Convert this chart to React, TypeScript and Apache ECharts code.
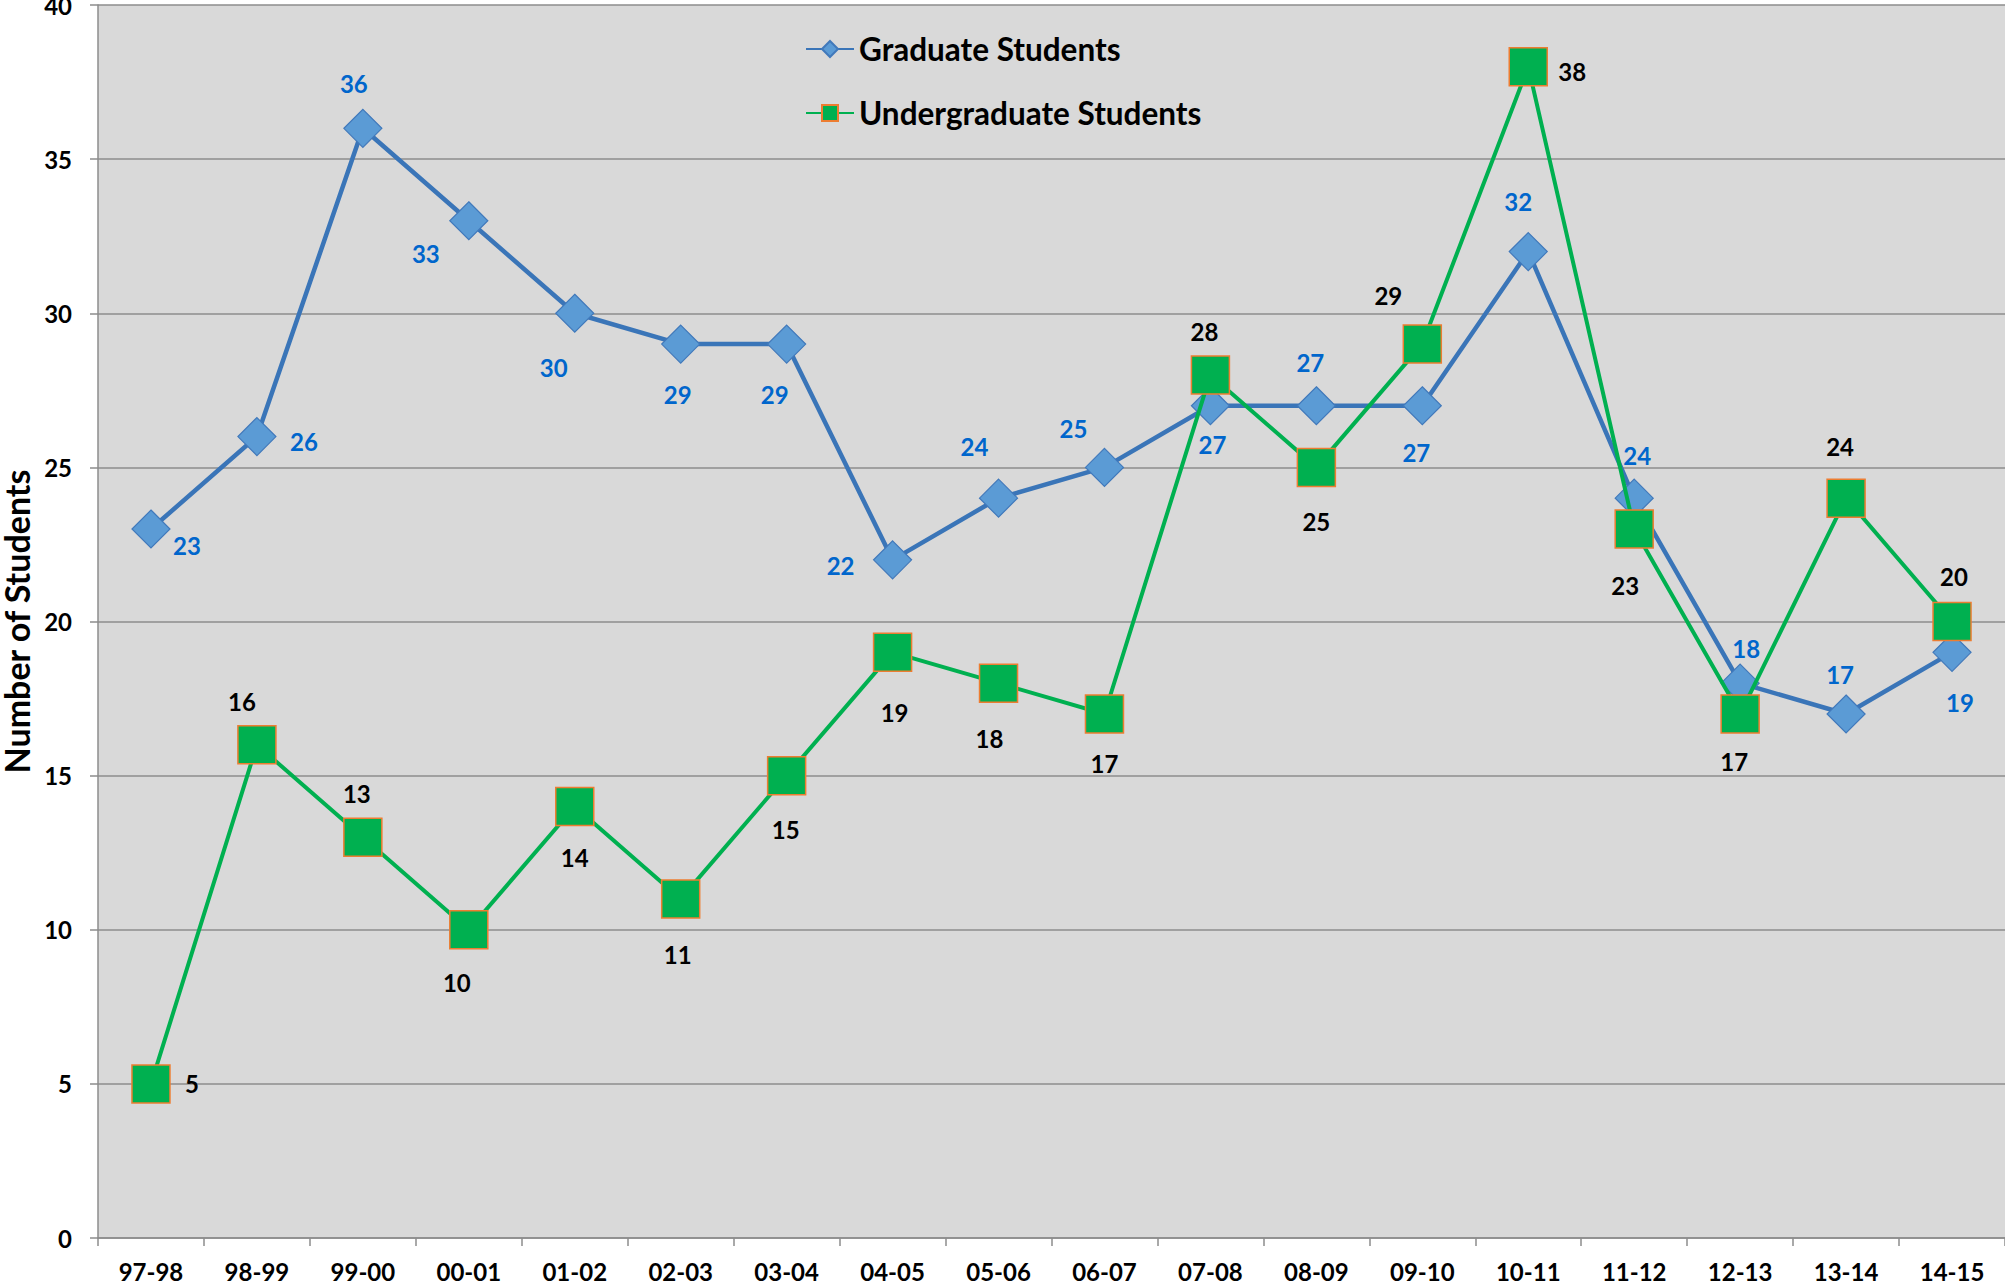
import React, { useEffect, useRef } from "react";
import * as echarts from "echarts";

const categories = ["97-98", "98-99", "99-00", "00-01", "01-02", "02-03", "03-04", "04-05", "05-06", "06-07", "07-08", "08-09", "09-10", "10-11", "11-12", "12-13", "13-14", "14-15"];
const graduate = [23, 26, 36, 33, 30, 29, 29, 22, 24, 25, 27, 27, 27, 32, 24, 18, 17, 19];
const undergraduate = [5, 16, 13, 10, 14, 11, 15, 19, 18, 17, 28, 25, 29, 38, 23, 17, 24, 20];
const yTicks = { min: 0, max: 40, interval: 5 };

// label placement offsets (pixels from marker centre)
const gradLabelOffset = [[36, 16], [47, 5], [-9, -45], [-43, 33], [-21, 54], [-3, 50], [-12, 50], [-52, 6], [-24, -52], [-31, -39], [2, 39], [-6, -43], [-6, 47], [-10, -50], [3, -43], [6, -35], [-6, -39], [8, 50]];
const ugLabelOffset = [[41, 0], [-15, -43], [-6, -44], [-12, 53], [0, 51], [-3, 56], [-1, 54], [2, 60], [-9, 55], [0, 50], [-6, -43], [0, 54], [-34, -49], [44, 5], [-9, 56], [-6, 48], [-6, -52], [2, -45]];

const FONT = "Lato, 'Open Sans', sans-serif";

export default function App() {
  const ref = useRef<HTMLDivElement>(null);
  useEffect(() => {
    if (!ref.current) return;
    const chart = echarts.init(ref.current, null, { renderer: "svg" });
    chart.setOption({
      animation: false,
      backgroundColor: "#ffffff",
      textStyle: { fontFamily: FONT },
      grid: {
        left: 98, right: 0, top: 5, bottom: 48,
        outerBoundsMode: "none",
        containLabel: false,
        show: true, backgroundColor: "#D9D9D9", borderWidth: 0,
      },
      legend: {
        orient: "vertical",
        left: 800,
        top: 28,
        itemGap: 32,
        itemWidth: 48,
        itemHeight: 20,
        textStyle: { fontFamily: FONT, fontWeight: "bold", fontSize: 31.5, color: "#000" },
        data: ["Graduate Students", "Undergraduate Students"],
      },
      xAxis: {
        type: "category",
        data: categories,
        boundaryGap: true,
        axisLine: { lineStyle: { color: "#8C8C8C", width: 1.5 } },
        axisTick: { show: true, length: 8, lineStyle: { color: "#8C8C8C", width: 1.5 } },
        axisLabel: { fontFamily: FONT, fontWeight: "bold", fontSize: 24, color: "#000", margin: 21 },
      },
      yAxis: {
        type: "value",
        min: yTicks.min,
        max: yTicks.max,
        interval: yTicks.interval,
        name: "Number of Students",
        nameLocation: "middle",
        nameRotate: 90,
        nameGap: 62,
        nameTextStyle: { fontFamily: FONT, fontWeight: "bold", fontSize: 34, lineHeight: 34, color: "#000" },
        axisLine: { show: true, lineStyle: { color: "#8C8C8C", width: 1.5 } },
        axisTick: { show: true, length: 8, lineStyle: { color: "#8C8C8C", width: 1.5 } },
        axisLabel: { fontFamily: FONT, fontWeight: "bold", fontSize: 24, color: "#000", margin: 26 },
        splitLine: { lineStyle: { color: "#8C8C8C", width: 1.5 } },
      },
      series: [
        {
          name: "Graduate Students",
          type: "line",
          symbol: "diamond",
          symbolSize: 38,
          lineStyle: { color: "#3A75B8", width: 4.5 },
          itemStyle: { color: "#5B9BD5", borderColor: "#4179BB", borderWidth: 1.2 },
          label: { show: true, position: "inside", fontFamily: FONT, fontWeight: "bold", fontSize: 24, color: "#0066CC" },
          data: graduate.map((v, i) => ({ value: v, label: { offset: gradLabelOffset[i] } })),
          z: 2,
        },
        {
          name: "Undergraduate Students",
          type: "line",
          symbol: "rect",
          symbolSize: 38,
          lineStyle: { color: "#00B050", width: 4 },
          itemStyle: { color: "#00B050", borderColor: "#ED7D31", borderWidth: 1.5 },
          label: { show: true, position: "inside", fontFamily: FONT, fontWeight: "bold", fontSize: 24, color: "#000000" },
          data: undergraduate.map((v, i) => ({ value: v, label: { offset: ugLabelOffset[i] } })),
          z: 3,
        },
      ],
    });
    return () => chart.dispose();
  }, []);
  return <div ref={ref} style={{ position: "absolute", left: 0, top: 0, width: 2005, height: 1286 }} />;
}
